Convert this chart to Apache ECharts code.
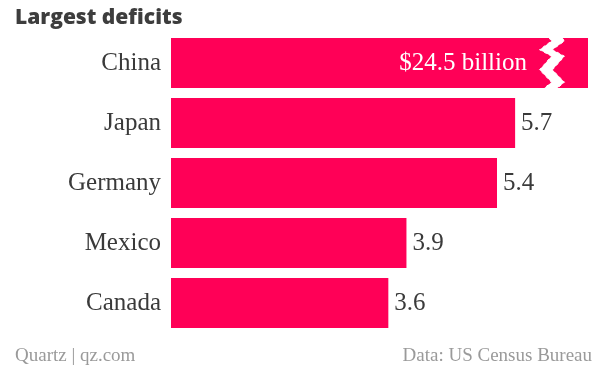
<!DOCTYPE html>
<html>
<head>
<meta charset="utf-8">
<script src="https://cdn.jsdelivr.net/npm/echarts@6/dist/echarts.min.js"></script>
<style>html,body{margin:0;padding:0;background:#fff;}#c{width:600px;height:370px;}</style>
</head>
<body>
<div id="c"></div>
<script>
const categories = ['China', 'Japan', 'Germany', 'Mexico', 'Canada'];
const deficits = [24.5, 5.7, 5.4, 3.9, 3.6];
const titleText = 'Largest deficits';
const footerLeft = 'Quartz | qz.com';
const footerRight = 'Data: US Census Bureau';

const BAR = '#ff0057';
const SERIF = '"Liberation Serif", "DejaVu Serif", serif';

const chart = echarts.init(document.getElementById('c'), null, {renderer: 'canvas'});

const labelData = deficits.map((v, i) => {
  if (i === 0) {
    return {
      value: v,
      label: {
        position: 'insideRight',
        distance: 61,
        color: '#fff',
        formatter: '$' + v + ' billion'
      }
    };
  }
  return v;
});

chart.setOption({
  animation: false,
  title: [
    {text: titleText, left: 10, top: 3,
     textStyle: {fontFamily: '"Open Sans", Roboto, sans-serif', fontWeight: 800, fontSize: 21, color: '#3d3d3d'}},
    {text: footerLeft, left: 10, top: 342,
     textStyle: {fontFamily: SERIF, fontWeight: 'normal', fontSize: 19, color: '#9a9a9a'}},
    {text: footerRight, right: 3, top: 342,
     textStyle: {fontFamily: SERIF, fontWeight: 'normal', fontSize: 19, color: '#9a9a9a'}}
  ],
  grid: {left: 171, right: 12, top: 33, bottom: 37, containLabel: false},
  xAxis: {
    type: 'value', min: 0, max: 24.5,
    axisLine: {show: false}, axisTick: {show: false},
    axisLabel: {show: false}, splitLine: {show: false},
    breaks: [{start: 6.2, end: 24.0, gap: '3%'}],
    breakArea: {
      show: true,
      itemStyle: {color: '#fff', borderColor: '#fff', borderWidth: 1, opacity: 1},
      zigzagAmplitude: 6,
      zigzagMinSpan: 6,
      zigzagMaxSpan: 14,
      zigzagZ: 100,
      expandOnClick: false
    }
  },
  yAxis: {
    type: 'category', inverse: true, data: categories,
    axisLine: {show: false}, axisTick: {show: false}, splitLine: {show: false},
    axisLabel: {fontFamily: SERIF, fontSize: 25, color: '#3a3a3a', margin: 10}
  },
  series: [{
    type: 'bar',
    data: deficits,
    barWidth: 50,
    z: 2,
    itemStyle: {color: BAR},
    label: {show: false}
  }, {
    type: 'bar',
    data: labelData,
    barWidth: 50,
    barGap: '-100%',
    z: 200,
    silent: true,
    itemStyle: {color: 'rgba(0,0,0,0)'},
    label: {
      show: true, position: 'right', distance: 6,
      fontFamily: SERIF, fontSize: 25, color: '#3a3a3a'
    }
  }]
});
</script>
</body>
</html>
